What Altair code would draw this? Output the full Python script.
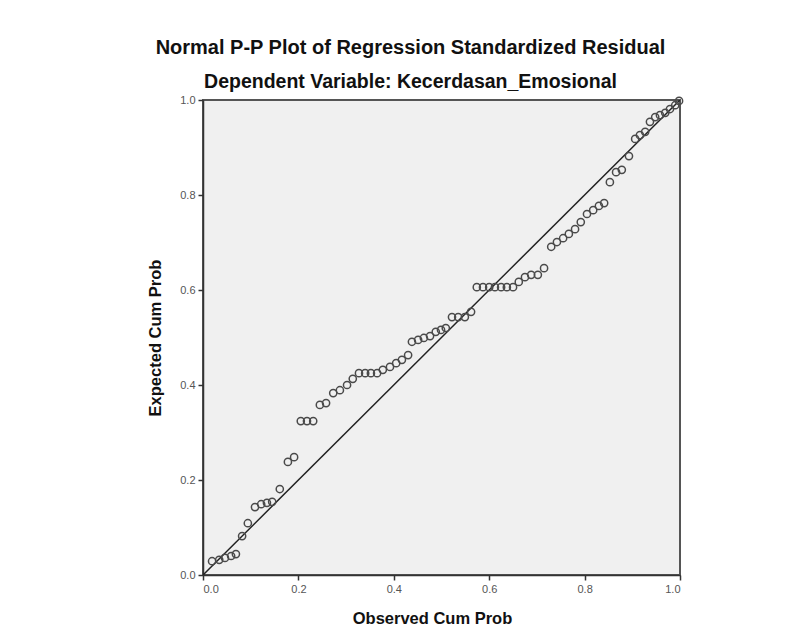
import altair as alt
import pandas as pd

observed = [0.019, 0.034, 0.046, 0.059, 0.069, 0.082, 0.094, 0.109, 0.122, 0.134,
            0.145, 0.161, 0.178, 0.191, 0.205, 0.218, 0.231, 0.245, 0.258, 0.273,
            0.287, 0.302, 0.314, 0.327, 0.340, 0.352, 0.365, 0.377, 0.392, 0.405,
            0.417, 0.430, 0.438, 0.451, 0.463, 0.476, 0.488, 0.499, 0.509, 0.522,
            0.535, 0.549, 0.562, 0.574, 0.587, 0.600, 0.612, 0.625, 0.637, 0.650,
            0.662, 0.675, 0.688, 0.702, 0.715, 0.730, 0.742, 0.755, 0.767, 0.780,
            0.792, 0.805, 0.818, 0.830, 0.841, 0.853, 0.866, 0.878, 0.893, 0.906,
            0.916, 0.927, 0.937, 0.948, 0.958, 0.969, 0.979, 0.990, 0.998]
expected = [0.029, 0.032, 0.036, 0.040, 0.044, 0.082, 0.109, 0.143, 0.149, 0.152,
            0.154, 0.181, 0.238, 0.248, 0.324, 0.324, 0.324, 0.358, 0.362, 0.383,
            0.389, 0.400, 0.413, 0.425, 0.425, 0.425, 0.425, 0.432, 0.438, 0.446,
            0.453, 0.463, 0.491, 0.495, 0.499, 0.503, 0.512, 0.516, 0.520, 0.543,
            0.543, 0.543, 0.554, 0.606, 0.606, 0.606, 0.606, 0.606, 0.606, 0.606,
            0.617, 0.627, 0.632, 0.632, 0.646, 0.691, 0.701, 0.709, 0.718, 0.728,
            0.743, 0.760, 0.768, 0.777, 0.783, 0.827, 0.848, 0.853, 0.882, 0.918,
            0.926, 0.933, 0.954, 0.964, 0.968, 0.973, 0.981, 0.989, 0.998]
ref_line = [0.0, 1.0]
ticks = [0.0, 0.2, 0.4, 0.6, 0.8, 1.0]

pts = pd.DataFrame({"obs": observed, "exp": expected})
line_df = pd.DataFrame({"obs": ref_line, "exp": ref_line})

xscale = alt.Scale(domain=[0, 1], nice=False, zero=False)
yscale = alt.Scale(domain=[0, 1], nice=False, zero=False)

xaxis = alt.Axis(title="Observed Cum Prob", values=ticks, format=".1f", grid=False,
                 tickSize=5, labelPadding=3, titlePadding=16, titleX=229)
yaxis = alt.Axis(title="Expected Cum Prob", values=ticks, format=".1f", grid=False,
                 tickSize=5, labelPadding=3, titlePadding=16)

line = alt.Chart(line_df).mark_line(color="#222222", strokeWidth=1.5, clip=True).encode(
    x=alt.X("obs:Q", scale=xscale, axis=xaxis),
    y=alt.Y("exp:Q", scale=yscale, axis=yaxis),
)

points = alt.Chart(pts).mark_point(shape="circle", filled=False, color="#4a4a4a",
                                   size=52, strokeWidth=1.5, opacity=1).encode(
    x=alt.X("obs:Q", scale=xscale),
    y=alt.Y("exp:Q", scale=yscale),
)

chart = alt.layer(line, points).properties(
    width=477,
    height=475,
    autosize=alt.AutoSizeParams(type="none"),
    padding={"left": 195, "top": 92, "right": 100, "bottom": 50},
    background="white",
    title=alt.TitleParams(
        text="Normal P-P Plot of Regression Standardized Residual",
        subtitle="Dependent Variable: Kecerdasan_Emosional",
        anchor="middle",
        dx=-31,
        offset=3,
        font="Liberation Sans",
        fontSize=20,
        fontWeight="bold",
        color="#111111",
        subtitleFont="Liberation Sans",
        subtitleFontSize=19.5,
        subtitleFontWeight="bold",
        subtitleColor="#111111",
        subtitlePadding=15,
    ),
).configure_view(
    fill="#f0f0f0", stroke="#555555", strokeWidth=2
).configure_axis(
    domainColor="#333333", domainWidth=1.5, tickColor="#333333", tickWidth=1.5,
    labelFont="Liberation Sans", labelFontSize=11, labelColor="#555555",
    titleFont="Liberation Sans", titleFontSize=16.5, titleFontWeight="bold",
    titleColor="#111111",
)

chart.save("out.html", embed_options={"renderer": "svg", "actions": False})
